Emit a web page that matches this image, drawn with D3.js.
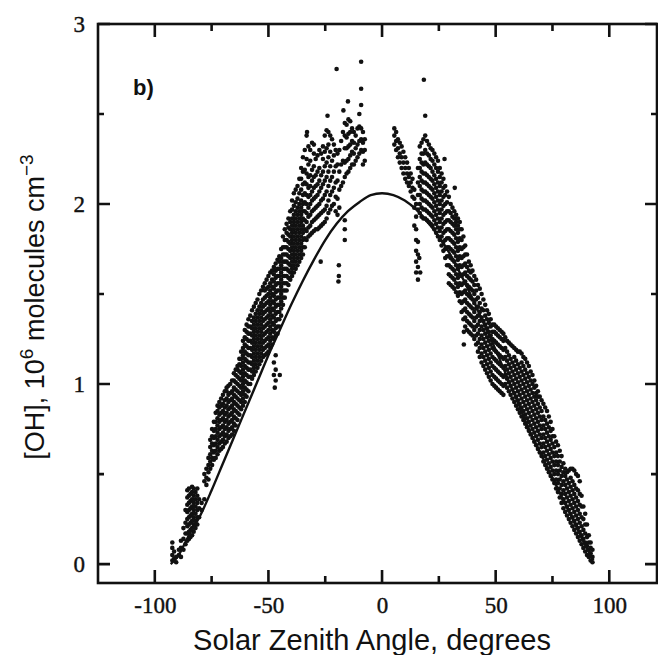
<!DOCTYPE html>
<html>
<head>
<meta charset="utf-8">
<script src="https://cdn.jsdelivr.net/npm/d3@7"></script>
<style>
  html, body { margin: 0; padding: 0; background: #fff; }
  svg { display: block; }
</style>
</head>
<body>
<svg id="chart" width="658" height="655"></svg>
<script>
// OH concentration vs solar zenith angle, panel b): measured points + model curve.
// Each column is [sza, oh, oh, ...] read off the figure.
const leftBranch = [
  [-92.3, 0.02, 0.05, 0.09, 0.12],
  [-91.5, 0.03, 0.07],
  [-90.6, 0.01, 0.04],
  [-89.4, 0.05, 0.08],
  [-88.5, 0.04, 0.09, 0.13],
  [-87.4, 0.08, 0.14, 0.20],
  [-86.5, 0.11, 0.17, 0.23, 0.30],
  [-85.7, 0.13, 0.17, 0.21, 0.25, 0.29, 0.33, 0.37, 0.41],
  [-85.0, 0.14, 0.18, 0.22, 0.26, 0.30, 0.34, 0.38, 0.42],
  [-84.3, 0.15, 0.19, 0.23, 0.27, 0.31, 0.35, 0.39],
  [-83.6, 0.16, 0.20, 0.24, 0.28, 0.32, 0.36, 0.40, 0.43],
  [-82.9, 0.18, 0.22, 0.26, 0.30, 0.34, 0.38, 0.42],
  [-82.1, 0.20, 0.24, 0.28, 0.32, 0.36, 0.40],
  [-81.3, 0.22, 0.26, 0.30, 0.34, 0.38, 0.42],
  [-80.5, 0.26, 0.31, 0.36],
  [-79.4, 0.30, 0.34],
  [-78.2, 0.36, 0.46, 0.50],
  [-77.3, 0.44, 0.48, 0.53],
  [-76.4, 0.47, 0.51, 0.55, 0.59],
  [-75.6, 0.53, 0.57, 0.61, 0.65, 0.69],
  [-74.8, 0.55, 0.59, 0.63, 0.67, 0.71, 0.75],
  [-74.0, 0.58, 0.62, 0.66, 0.70, 0.74, 0.79],
  [-73.2, 0.59, 0.63, 0.67, 0.71, 0.75, 0.79, 0.84],
  [-72.4, 0.61, 0.65, 0.69, 0.73, 0.77, 0.81, 0.85, 0.88],
  [-71.6, 0.63, 0.67, 0.71, 0.75, 0.79, 0.83, 0.87, 0.90],
  [-70.8, 0.64, 0.68, 0.72, 0.76, 0.80, 0.84, 0.88, 0.92],
  [-70.0, 0.65, 0.69, 0.73, 0.77, 0.81, 0.85, 0.89, 0.94],
  [-69.2, 0.67, 0.71, 0.75, 0.79, 0.83, 0.87, 0.91, 0.96],
  [-68.4, 0.68, 0.72, 0.76, 0.80, 0.84, 0.88, 0.92, 0.96, 0.98],
  [-67.6, 0.70, 0.74, 0.78, 0.82, 0.86, 0.90, 0.94, 0.99],
  [-66.8, 0.71, 0.75, 0.79, 0.83, 0.87, 0.91, 0.95, 1.00],
  [-66.0, 0.72, 0.76, 0.80, 0.84, 0.88, 0.92, 0.96, 1.02],
  [-65.2, 0.74, 0.78, 0.82, 0.86, 0.90, 0.94, 0.98, 1.02, 1.06],
  [-64.4, 0.77, 0.81, 0.85, 0.89, 0.93, 0.97, 1.01, 1.05, 1.08],
  [-63.6, 0.80, 0.84, 0.88, 0.92, 0.96, 1.00, 1.04, 1.08, 1.10],
  [-62.8, 0.83, 0.87, 0.91, 0.95, 0.99, 1.03, 1.07, 1.11, 1.14],
  [-62.0, 0.86, 0.90, 0.94, 0.98, 1.02, 1.06, 1.10, 1.14, 1.18],
  [-61.2, 0.88, 0.92, 0.96, 1.00, 1.04, 1.08, 1.12, 1.16, 1.20, 1.24],
  [-60.4, 0.90, 0.94, 0.98, 1.02, 1.06, 1.10, 1.14, 1.18, 1.22, 1.26, 1.30],
  [-59.6, 0.93, 0.97, 1.01, 1.05, 1.09, 1.13, 1.17, 1.21, 1.25, 1.29, 1.33],
  [-58.8, 0.96, 1.00, 1.04, 1.08, 1.12, 1.16, 1.20, 1.24, 1.28, 1.32, 1.36],
  [-58.0, 1.00, 1.04, 1.08, 1.12, 1.16, 1.20, 1.24, 1.28, 1.32, 1.38],
  [-57.2, 1.03, 1.07, 1.11, 1.15, 1.19, 1.23, 1.27, 1.31, 1.35, 1.41],
  [-56.4, 1.05, 1.09, 1.13, 1.17, 1.21, 1.25, 1.29, 1.33, 1.37, 1.43],
  [-55.6, 1.07, 1.11, 1.15, 1.19, 1.23, 1.27, 1.31, 1.35, 1.39, 1.45],
  [-54.8, 1.09, 1.13, 1.17, 1.21, 1.25, 1.29, 1.33, 1.37, 1.41, 1.47],
  [-54.0, 1.11, 1.15, 1.19, 1.23, 1.27, 1.31, 1.35, 1.39, 1.43, 1.50],
  [-53.2, 1.13, 1.17, 1.21, 1.25, 1.29, 1.33, 1.37, 1.41, 1.45, 1.52],
  [-52.4, 1.15, 1.19, 1.23, 1.27, 1.31, 1.35, 1.39, 1.43, 1.47, 1.54],
  [-51.6, 1.16, 1.20, 1.24, 1.28, 1.32, 1.36, 1.40, 1.44, 1.48, 1.52, 1.56],
  [-50.8, 1.17, 1.21, 1.25, 1.29, 1.33, 1.37, 1.41, 1.45, 1.49, 1.53, 1.58],
  [-50.0, 1.18, 1.22, 1.26, 1.30, 1.34, 1.38, 1.42, 1.46, 1.50, 1.54, 1.60],
  [-49.2, 1.20, 1.24, 1.28, 1.32, 1.36, 1.40, 1.44, 1.48, 1.52, 1.56, 1.62],
  [-48.4, 1.22, 1.26, 1.30, 1.34, 1.38, 1.42, 1.46, 1.50, 1.54, 1.58, 1.63],
  [-47.6, 1.05, 1.12, 1.25, 1.29, 1.33, 1.37, 1.41, 1.45, 1.49, 1.53, 1.57, 1.61, 1.65],
  [-46.8, 1.02, 1.08, 1.16, 1.27, 1.31, 1.35, 1.39, 1.43, 1.47, 1.51, 1.55, 1.59, 1.63, 1.67],
  [-46.0, 1.28, 1.32, 1.36, 1.40, 1.44, 1.48, 1.52, 1.56, 1.60, 1.64, 1.69],
  [-45.2, 1.32, 1.36, 1.40, 1.44, 1.48, 1.52, 1.56, 1.60, 1.64, 1.68, 1.71],
  [-44.4, 1.38, 1.42, 1.46, 1.50, 1.54, 1.58, 1.62, 1.66, 1.70, 1.75],
  [-43.6, 1.44, 1.48, 1.52, 1.56, 1.60, 1.64, 1.68, 1.72, 1.76, 1.82],
  [-42.8, 1.48, 1.52, 1.56, 1.60, 1.64, 1.68, 1.72, 1.76, 1.80, 1.86],
  [-42.0, 1.52, 1.56, 1.60, 1.64, 1.68, 1.72, 1.76, 1.80, 1.84, 1.89],
  [-41.2, 1.55, 1.59, 1.63, 1.67, 1.71, 1.75, 1.79, 1.83, 1.87, 1.92],
  [-40.4, 1.58, 1.62, 1.66, 1.70, 1.74, 1.78, 1.82, 1.86, 1.90, 1.96],
  [-39.6, 1.60, 1.64, 1.68, 1.72, 1.76, 1.80, 1.84, 1.88, 1.92, 1.97, 2.02],
  [-38.8, 1.62, 1.66, 1.70, 1.74, 1.78, 1.82, 1.86, 1.90, 1.94, 1.99, 2.06],
  [-38.0, 1.64, 1.68, 1.72, 1.76, 1.80, 1.84, 1.88, 1.92, 1.96, 2.01, 2.08],
  [-37.2, 1.66, 1.70, 1.74, 1.78, 1.82, 1.86, 1.90, 1.94, 1.98, 2.03, 2.10],
  [-36.4, 1.68, 1.72, 1.76, 1.80, 1.84, 1.88, 1.92, 1.96, 2.00, 2.06, 2.14],
  [-35.6, 1.70, 1.74, 1.78, 1.82, 1.86, 1.90, 1.94, 1.98, 2.02, 2.08, 2.14, 2.20],
  [-34.8, 1.72, 1.76, 1.80, 1.84, 1.88, 1.92, 1.96, 2.00, 2.05, 2.11, 2.18, 2.26],
  [-34.0, 1.76, 1.81, 1.86, 1.91, 1.96, 2.01, 2.06, 2.12, 2.19, 2.30],
  [-33.2, 1.80, 1.85, 1.90, 1.95, 2.00, 2.05, 2.11, 2.17, 2.25, 2.38],
  [-32.4, 1.82, 1.87, 1.93, 1.98, 2.04, 2.09, 2.15, 2.22, 2.32],
  [-31.6, 1.83, 1.88, 1.94, 2.00, 2.05, 2.10, 2.16, 2.24, 2.30],
  [-30.8, 1.84, 1.90, 1.96, 2.02, 2.07, 2.13, 2.19, 2.34],
  [-30.0, 1.85, 1.91, 1.97, 2.03, 2.09, 2.15, 2.21, 2.28],
  [-29.2, 1.86, 1.92, 1.98, 2.04, 2.10, 2.16, 2.25],
  [-28.4, 1.86, 1.93, 1.99, 2.05, 2.11, 2.18, 2.27],
  [-27.6, 1.87, 1.94, 2.00, 2.07, 2.13, 2.20, 2.30],
  [-26.8, 1.88, 1.95, 2.02, 2.09, 2.16, 2.28],
  [-26.0, 1.89, 1.96, 2.03, 2.11, 2.18, 2.25, 2.32],
  [-25.2, 1.90, 1.97, 2.05, 2.13, 2.21, 2.29, 2.38],
  [-24.4, 1.92, 1.99, 2.07, 2.15, 2.23, 2.31, 2.41],
  [-23.6, 1.95, 2.02, 2.10, 2.18, 2.26, 2.33, 2.40],
  [-22.8, 1.97, 2.05, 2.13, 2.21, 2.29, 2.38],
  [-22.0, 1.99, 2.07, 2.15, 2.24, 2.36],
  [-21.2, 2.00, 2.09, 2.18, 2.27, 2.33],
  [-20.4, 1.96, 2.04, 2.12, 2.21, 2.30],
  [-19.6, 1.94, 2.03, 2.13, 2.22, 2.28],
  [-18.8, 1.98, 2.08, 2.18, 2.30],
  [-18.0, 2.10, 2.22, 2.35],
  [-17.2, 2.12, 2.24, 2.40],
  [-16.4, 1.80, 1.86, 1.91, 2.15, 2.23, 2.31, 2.38, 2.45],
  [-15.6, 2.17, 2.24, 2.31, 2.37, 2.44],
  [-14.8, 2.18, 2.25, 2.32, 2.39, 2.47],
  [-14.0, 2.20, 2.27, 2.33, 2.40, 2.46],
  [-13.2, 2.22, 2.29, 2.35, 2.42],
  [-12.4, 2.22, 2.28, 2.34, 2.40],
  [-11.6, 2.24, 2.31, 2.38],
  [-10.8, 2.26, 2.33, 2.42],
  [-10.0, 2.28, 2.35, 2.43, 2.50],
  [-9.2, 2.30, 2.36, 2.42, 2.55, 2.64],
  [-8.4, 2.22, 2.29, 2.34, 2.40],
  [-7.6, 2.24, 2.30, 2.36]
];

const rightBranch = [
  [5.4, 2.33, 2.38, 2.42],
  [6.2, 2.30, 2.35, 2.40],
  [7.0, 2.26, 2.31, 2.36],
  [7.8, 2.23, 2.28, 2.34],
  [8.6, 2.20, 2.26, 2.32],
  [9.4, 2.17, 2.23, 2.29],
  [10.2, 2.14, 2.20, 2.26],
  [11.0, 2.12, 2.17, 2.23],
  [11.8, 2.10, 2.15, 2.20],
  [12.6, 2.07, 2.12, 2.17],
  [13.4, 2.04, 2.09, 2.14],
  [14.2, 1.88, 1.98, 2.03, 2.08],
  [15.0, 1.62, 1.68, 1.74, 1.80, 1.86, 1.93, 2.00],
  [15.8, 1.58, 1.65, 1.72, 1.79, 1.97, 2.05, 2.12, 2.20],
  [16.6, 1.95, 2.00, 2.05, 2.10, 2.15, 2.20, 2.25, 2.32],
  [17.4, 1.93, 1.98, 2.03, 2.08, 2.13, 2.18, 2.23, 2.28, 2.34],
  [18.2, 1.92, 1.97, 2.02, 2.07, 2.12, 2.17, 2.22, 2.28, 2.36],
  [19.0, 1.92, 1.97, 2.02, 2.07, 2.12, 2.17, 2.23, 2.30, 2.38],
  [19.8, 1.91, 1.96, 2.01, 2.06, 2.11, 2.16, 2.22, 2.28, 2.35],
  [20.6, 1.90, 1.95, 2.00, 2.05, 2.10, 2.15, 2.21, 2.27, 2.33],
  [21.4, 1.89, 1.94, 1.99, 2.04, 2.09, 2.14, 2.20, 2.25, 2.31],
  [22.2, 1.88, 1.93, 1.98, 2.03, 2.08, 2.13, 2.18, 2.24, 2.30],
  [23.0, 1.86, 1.91, 1.96, 2.01, 2.06, 2.11, 2.16, 2.22, 2.28],
  [23.8, 1.84, 1.89, 1.94, 1.99, 2.04, 2.09, 2.14, 2.20, 2.26],
  [24.6, 1.82, 1.87, 1.92, 1.97, 2.02, 2.07, 2.12, 2.18, 2.24],
  [25.4, 1.80, 1.85, 1.90, 1.95, 2.00, 2.05, 2.10, 2.15, 2.20],
  [26.2, 1.77, 1.82, 1.87, 1.92, 1.97, 2.02, 2.07, 2.12, 2.17],
  [27.0, 1.74, 1.79, 1.84, 1.89, 1.94, 1.99, 2.04, 2.09, 2.14],
  [27.8, 1.70, 1.75, 1.80, 1.85, 1.90, 1.95, 2.00, 2.05, 2.10],
  [28.6, 1.66, 1.71, 1.76, 1.81, 1.86, 1.91, 1.96, 2.01, 2.07],
  [29.4, 1.56, 1.61, 1.66, 1.71, 1.76, 1.81, 1.86, 1.91, 1.96, 2.04],
  [30.2, 1.55, 1.60, 1.65, 1.70, 1.75, 1.80, 1.85, 1.90, 1.95, 2.00],
  [31.0, 1.54, 1.59, 1.64, 1.69, 1.74, 1.79, 1.84, 1.89, 1.93, 1.98],
  [31.8, 1.53, 1.58, 1.63, 1.68, 1.73, 1.78, 1.83, 1.88, 1.92, 1.96],
  [32.6, 1.51, 1.56, 1.61, 1.66, 1.71, 1.76, 1.81, 1.86, 1.90, 1.94],
  [33.4, 1.49, 1.54, 1.59, 1.64, 1.69, 1.74, 1.79, 1.84, 1.88, 1.92],
  [34.2, 1.46, 1.51, 1.56, 1.61, 1.66, 1.71, 1.76, 1.81, 1.86, 1.90],
  [35.0, 1.40, 1.45, 1.50, 1.55, 1.60, 1.65, 1.70, 1.75, 1.80, 1.86],
  [35.8, 1.36, 1.41, 1.46, 1.51, 1.56, 1.61, 1.66, 1.71, 1.76, 1.82],
  [36.6, 1.32, 1.37, 1.42, 1.47, 1.52, 1.57, 1.62, 1.67, 1.72, 1.77],
  [37.4, 1.30, 1.35, 1.40, 1.45, 1.50, 1.55, 1.60, 1.65, 1.72],
  [38.2, 1.29, 1.34, 1.39, 1.44, 1.49, 1.54, 1.59, 1.63, 1.68],
  [39.0, 1.28, 1.33, 1.38, 1.43, 1.48, 1.53, 1.58, 1.62, 1.66],
  [39.8, 1.27, 1.32, 1.37, 1.42, 1.47, 1.52, 1.57, 1.63],
  [40.6, 1.25, 1.30, 1.35, 1.40, 1.45, 1.50, 1.55, 1.60],
  [41.4, 1.22, 1.27, 1.32, 1.37, 1.42, 1.47, 1.52, 1.58],
  [42.2, 1.18, 1.23, 1.28, 1.33, 1.38, 1.43, 1.48, 1.55],
  [43.0, 1.15, 1.20, 1.25, 1.30, 1.35, 1.40, 1.45, 1.53],
  [43.8, 1.12, 1.17, 1.22, 1.27, 1.32, 1.37, 1.42, 1.50],
  [44.6, 1.10, 1.15, 1.20, 1.25, 1.30, 1.35, 1.41, 1.47],
  [45.4, 1.08, 1.13, 1.18, 1.23, 1.28, 1.33, 1.38, 1.44],
  [46.2, 1.06, 1.11, 1.16, 1.21, 1.26, 1.31, 1.36, 1.41],
  [47.0, 1.04, 1.09, 1.14, 1.19, 1.24, 1.29, 1.34, 1.39],
  [47.8, 1.02, 1.07, 1.12, 1.17, 1.22, 1.27, 1.32, 1.36],
  [48.6, 1.00, 1.05, 1.10, 1.15, 1.20, 1.25, 1.29, 1.33],
  [49.4, 0.99, 1.04, 1.09, 1.14, 1.19, 1.24, 1.29, 1.33],
  [50.2, 0.98, 1.03, 1.08, 1.13, 1.18, 1.23, 1.28, 1.32],
  [51.0, 0.97, 1.02, 1.07, 1.12, 1.17, 1.22, 1.27, 1.31],
  [51.8, 0.96, 1.01, 1.06, 1.11, 1.16, 1.21, 1.26, 1.30],
  [52.6, 0.95, 1.00, 1.05, 1.10, 1.15, 1.20, 1.25, 1.29],
  [53.4, 0.94, 0.99, 1.04, 1.09, 1.14, 1.19, 1.24, 1.28],
  [54.2, 1.00, 1.05, 1.10, 1.15, 1.20, 1.26],
  [55.0, 0.98, 1.03, 1.08, 1.13, 1.18, 1.24],
  [55.8, 0.96, 1.01, 1.06, 1.11, 1.16, 1.23],
  [56.6, 0.94, 0.99, 1.04, 1.09, 1.14, 1.22],
  [57.4, 0.92, 0.97, 1.02, 1.07, 1.12, 1.21],
  [58.2, 0.90, 0.95, 1.00, 1.05, 1.10, 1.15, 1.20],
  [59.0, 0.88, 0.93, 0.98, 1.03, 1.08, 1.13, 1.19],
  [59.8, 0.86, 0.91, 0.96, 1.01, 1.06, 1.11, 1.18],
  [60.6, 0.84, 0.89, 0.94, 0.99, 1.04, 1.09, 1.18],
  [61.4, 0.82, 0.87, 0.92, 0.97, 1.02, 1.07, 1.12, 1.17],
  [62.2, 0.80, 0.85, 0.90, 0.95, 1.00, 1.05, 1.10, 1.15],
  [63.0, 0.78, 0.83, 0.88, 0.93, 0.98, 1.03, 1.08, 1.14],
  [63.8, 0.76, 0.81, 0.86, 0.91, 0.96, 1.01, 1.06, 1.12],
  [64.6, 0.74, 0.79, 0.84, 0.89, 0.94, 0.99, 1.04, 1.10],
  [65.4, 0.72, 0.77, 0.82, 0.87, 0.92, 0.97, 1.02, 1.07],
  [66.2, 0.70, 0.75, 0.80, 0.85, 0.90, 0.95, 1.00, 1.05],
  [67.0, 0.68, 0.73, 0.78, 0.83, 0.88, 0.93, 0.98, 1.02],
  [67.8, 0.66, 0.71, 0.76, 0.81, 0.86, 0.91, 0.95, 0.99],
  [68.6, 0.64, 0.69, 0.74, 0.79, 0.84, 0.89, 0.93, 0.96],
  [69.4, 0.62, 0.67, 0.72, 0.77, 0.82, 0.87, 0.93],
  [70.2, 0.60, 0.65, 0.70, 0.75, 0.80, 0.85, 0.91],
  [71.0, 0.57, 0.62, 0.67, 0.72, 0.77, 0.82, 0.89],
  [71.8, 0.55, 0.60, 0.65, 0.70, 0.75, 0.80, 0.87],
  [72.6, 0.53, 0.58, 0.63, 0.68, 0.73, 0.78, 0.85],
  [73.4, 0.51, 0.56, 0.61, 0.66, 0.71, 0.76, 0.82],
  [74.2, 0.49, 0.54, 0.59, 0.64, 0.69, 0.74, 0.79],
  [75.0, 0.47, 0.52, 0.57, 0.62, 0.67, 0.71, 0.75],
  [75.8, 0.45, 0.50, 0.55, 0.60, 0.65, 0.71],
  [76.6, 0.42, 0.47, 0.52, 0.57, 0.62, 0.68],
  [77.4, 0.40, 0.45, 0.50, 0.55, 0.60, 0.66],
  [78.2, 0.37, 0.42, 0.47, 0.52, 0.57, 0.63],
  [79.0, 0.34, 0.39, 0.44, 0.49, 0.54, 0.60],
  [79.8, 0.31, 0.36, 0.41, 0.46, 0.51, 0.56],
  [80.6, 0.29, 0.34, 0.39, 0.44, 0.49, 0.53],
  [81.4, 0.27, 0.32, 0.37, 0.42, 0.47, 0.51],
  [82.2, 0.25, 0.30, 0.35, 0.40, 0.45, 0.52],
  [83.0, 0.23, 0.28, 0.33, 0.38, 0.43, 0.48, 0.53],
  [83.8, 0.21, 0.26, 0.31, 0.36, 0.41, 0.46, 0.53],
  [84.6, 0.19, 0.24, 0.29, 0.34, 0.39, 0.44, 0.52],
  [85.4, 0.17, 0.22, 0.27, 0.32, 0.37, 0.42, 0.50],
  [86.2, 0.15, 0.20, 0.25, 0.30, 0.35, 0.41, 0.49],
  [87.0, 0.13, 0.18, 0.23, 0.28, 0.33, 0.39, 0.46],
  [87.8, 0.11, 0.16, 0.21, 0.26, 0.32, 0.38],
  [88.6, 0.09, 0.14, 0.19, 0.25, 0.32],
  [89.4, 0.07, 0.12, 0.17, 0.22, 0.28],
  [90.2, 0.05, 0.10, 0.15, 0.22],
  [91.0, 0.04, 0.08, 0.12, 0.16],
  [91.8, 0.02, 0.06, 0.09, 0.12],
  [92.6, 0.01, 0.04, 0.08]
];

// isolated points away from the main bands
const strayPoints = [
  [-20.0, 2.75], [-9.2, 2.79], [-17.0, 2.52], [-24.0, 2.49], [-33.0, 2.40],
  [-30.0, 2.33], [-19.0, 1.60], [-19.0, 1.66], [-27.0, 1.68], [-19.2, 1.57],
  [-45.0, 1.05], [-47.2, 0.98], [-15.0, 2.57],
  [18.4, 2.69], [19.0, 2.49], [32.0, 2.09], [36.0, 1.29], [36.0, 1.22],
  [16.8, 1.62], [16.4, 1.70], [27.5, 2.25]
];

// model curve
const modelSza = [-93, -90, -85, -80, -75, -70, -65, -60, -55, -50, -45, -40, -35, -30, -25, -20, -15, -10, -5, 0,
                  5, 10, 15, 20, 25, 30, 35, 40, 45, 50, 55, 60, 65, 70, 75, 80, 85, 90, 93];
const modelOh  = [0.00, 0.04, 0.16, 0.27, 0.41, 0.56, 0.71, 0.86, 1.01, 1.16, 1.30, 1.44, 1.57, 1.69, 1.80, 1.89, 1.96, 2.01, 2.05, 2.06,
                  2.05, 2.02, 1.97, 1.90, 1.82, 1.72, 1.60, 1.47, 1.33, 1.19, 1.04, 0.89, 0.74, 0.61, 0.48, 0.35, 0.22, 0.09, 0.02];

const xMajor = [-100, -50, 0, 50, 100];
const xMinor = [-75, -25, 25, 75];
const yMajor = [0, 1, 2, 3];
const yMinor = [0.5, 1.5, 2.5];

const svg = d3.select('#chart');
const x = d3.scaleLinear().domain([-125, 121]).range([98, 657]);
const y = d3.scaleLinear().domain([-0.105, 3]).range([583, 24]);
const [X0, X1] = x.range(), [Y0, Y1] = y.range();
const ink = '#111';

const serif = '"Liberation Serif", "Times New Roman", serif';
const sans = '"Liberation Sans", Arial, Helvetica, sans-serif';

// data points
const pts = leftBranch.concat(rightBranch)
  .flatMap(([s, ...v]) => v.map(o => [s, o]))
  .concat(strayPoints);
svg.append('g').selectAll('circle').data(pts).join('circle')
  .attr('cx', d => x(d[0])).attr('cy', d => y(d[1]))
  .attr('r', 2.3).attr('fill', ink);

// model line
svg.append('path')
  .datum(modelSza.map((s, i) => [s, modelOh[i]]))
  .attr('fill', 'none').attr('stroke', ink).attr('stroke-width', 2.4)
  .attr('d', d3.line().x(d => x(d[0])).y(d => y(d[1])).curve(d3.curveMonotoneX));

// tick labels via d3 axes (tick marks drawn separately below)
svg.append('g').attr('transform', `translate(0,${Y0})`)
  .call(d3.axisBottom(x).tickValues(xMajor).tickSize(0).tickPadding(14).tickFormat(d => String(d)))
  .call(g => g.select('.domain').remove());
svg.append('g').attr('transform', `translate(${X0},0)`)
  .call(d3.axisLeft(y).tickValues(yMajor).tickSize(0).tickPadding(13).tickFormat(d => String(d)))
  .call(g => g.select('.domain').remove());
svg.selectAll('.tick text')
  .attr('font-family', serif).attr('font-size', 23).attr('fill', ink)
  .attr('stroke', ink).attr('stroke-width', 0.4);

// inward tick marks on all four sides, as one path
function xTickPath(vals, len) {
  return vals.map(v => `M${x(v)},${Y0}v${-len}M${x(v)},${Y1}v${len}`).join('');
}
function yTickPath(vals, len) {
  return vals.map(v => `M${X0},${y(v)}h${len}M${X1},${y(v)}h${-len}`).join('');
}
svg.append('path')
  .attr('d', xTickPath(xMajor, 13) + xTickPath(xMinor, 7) + yTickPath(yMajor, 12) + yTickPath(yMinor, 6))
  .attr('fill', 'none').attr('stroke', ink).attr('stroke-width', 2.6);

// frame
svg.append('rect')
  .attr('x', X0).attr('y', Y1).attr('width', X1 - X0).attr('height', Y0 - Y1)
  .attr('fill', 'none').attr('stroke', ink).attr('stroke-width', 2.6);

// titles
svg.append('text')
  .attr('x', 372).attr('y', 650).attr('text-anchor', 'middle')
  .attr('font-family', sans).attr('font-size', 29).attr('fill', ink)
  .text('Solar Zenith Angle, degrees');

const yt = svg.append('text')
  .attr('transform', 'translate(44,307) rotate(-90)').attr('text-anchor', 'middle')
  .attr('font-family', sans).attr('font-size', 27).attr('fill', ink);
yt.append('tspan').text('[OH], 10');
yt.append('tspan').attr('dy', -11).attr('font-size', 19).text('6');
yt.append('tspan').attr('dy', 11).text(' molecules cm');
yt.append('tspan').attr('dy', -11).attr('font-size', 19).text('\u22123');

svg.append('text')
  .attr('x', 133).attr('y', 95)
  .attr('font-family', sans).attr('font-size', 22).attr('font-weight', 'bold').attr('fill', ink)
  .text('b)');
</script>
</body>
</html>
